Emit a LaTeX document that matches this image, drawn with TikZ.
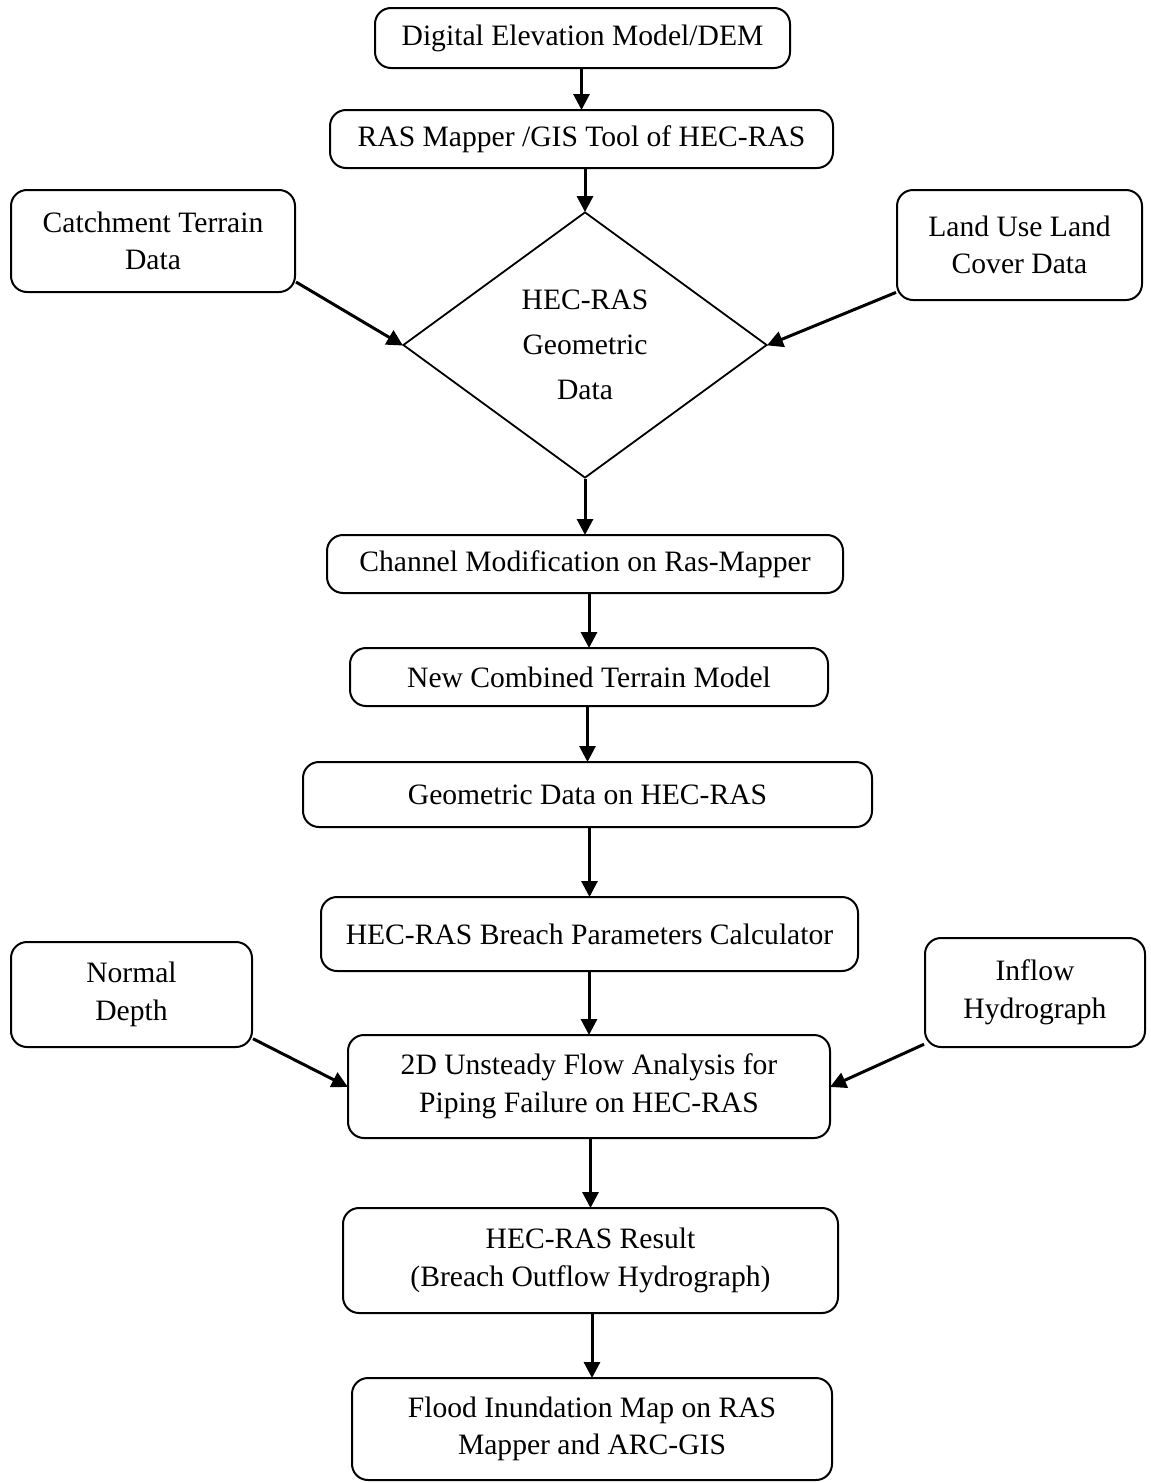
\documentclass[tikz,border=0pt]{standalone}
\usepackage{fontspec}
\setmainfont{Liberation Serif}
\usetikzlibrary{arrows.meta,shapes.geometric}
\begin{document}
\begin{tikzpicture}[x=1pt,y=-1pt,
  box/.style={draw, rounded corners=16pt, line width=2pt, align=center, inner sep=0pt,
    font=\fontsize{29.6}{37.5}\selectfont},
  dia/.style={draw, diamond, line width=1.8pt, align=center, inner sep=0pt,
    font=\fontsize{29.6}{45}\selectfont},
  arr/.style={line width=3pt, -{Triangle[length=16pt,width=16pt]}, shorten >=-1pt}]
\useasboundingbox (0,0) rectangle (1151,1483);
\node[box, minimum width=415pt, minimum height=60pt] (dem) at (582.5,38) {Digital Elevation Model/DEM};
\node[box, minimum width=503pt, minimum height=58pt] (ras) at (581.5,139) {RAS Mapper /GIS Tool of HEC-RAS};
\node[box, minimum width=284pt, minimum height=102pt] (catch) at (153,241) {Catchment Terrain\\Data};
\node[box, minimum width=245pt, minimum height=110pt] (land) at (1019.5,245) {Land Use Land\\Cover Data};
\node[dia, minimum width=364pt, minimum height=266pt] (geodia) at (585,345) {HEC-RAS\\Geometric\\Data};
\node[box, minimum width=516pt, minimum height=58pt] (chan) at (585,564) {Channel Modification on Ras-Mapper};
\node[box, minimum width=478pt, minimum height=58pt] (newc) at (589,677) {New Combined Terrain Model};
\node[box, minimum width=569pt, minimum height=65pt] (geo) at (587.5,794.5) {Geometric Data on HEC-RAS};
\node[box, minimum width=537pt, minimum height=74pt] (breach) at (589.5,934) {HEC-RAS Breach Parameters Calculator};
\node[box, minimum width=241pt, minimum height=105pt] (normal) at (131.5,994.5) {Normal\\Depth};
\node[box, minimum width=220pt, minimum height=109pt] (inflow) at (1035,992.5) {Inflow\\Hydrograph};
\node[box, minimum width=482pt, minimum height=103pt] (unsteady) at (589,1086.5) {2D Unsteady Flow Analysis for\\Piping Failure on HEC-RAS};
\node[box, minimum width=495pt, minimum height=105pt] (result) at (590.5,1260.5) {HEC-RAS Result\\(Breach Outflow Hydrograph)};
\node[box, minimum width=480pt, minimum height=102pt] (flood) at (592,1429) {Flood Inundation Map on RAS\\Mapper and ARC-GIS};
\draw[arr] (ras.north |- dem.south) -- (ras.north);
\draw[arr] (geodia.north |- ras.south) -- (geodia.north);
\draw[arr] (catch.-16) -- (geodia.west);
\draw[arr] (land.201) -- (geodia.east);
\draw[arr] (chan.north |- geodia.south) -- (chan.north);
\draw[arr] (newc.north |- chan.south) -- (newc.north);
\draw[arr] (geo.north |- newc.south) -- (geo.north);
\draw[arr] (breach.north |- geo.south) -- (breach.north);
\draw[arr] (unsteady.north |- breach.south) -- (unsteady.north);
\draw[arr] (normal.-20) -- (unsteady.west);
\draw[arr] (inflow.205) -- (unsteady.east);
\draw[arr] (result.north |- unsteady.south) -- (result.north);
\draw[arr] (flood.north |- result.south) -- (flood.north);
\end{tikzpicture}
\end{document}
